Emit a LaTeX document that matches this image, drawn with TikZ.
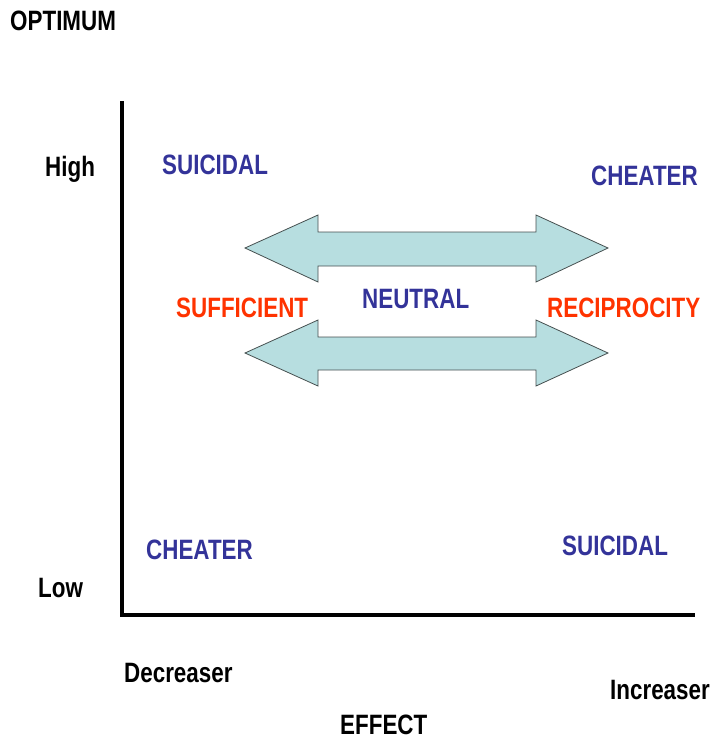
\documentclass[tikz,border=0pt]{standalone}
\usepackage{fontspec}
\setmainfont{Liberation Sans}[FakeStretch=0.80]
\definecolor{lblblue}{RGB}{51,51,153}
\definecolor{lblred}{RGB}{255,51,0}
\definecolor{arrfill}{RGB}{183,222,224}
\definecolor{arrdraw}{RGB}{70,80,80}
\tikzset{
  lbl/.style={inner sep=0pt, anchor=base west, font=\fontsize{28}{33}\selectfont\bfseries},
  blk/.style={lbl, text=black},
  blu/.style={lbl, text=lblblue},
  red/.style={lbl, text=lblred},
  axis/.style={line width=4.5pt, line join=miter},
  fatarrow/.style={fill=arrfill, draw=arrdraw, line width=0.8pt, line join=miter}
}
\begin{document}
\begin{tikzpicture}[x=1pt,y=-1pt]
\useasboundingbox (0,0) rectangle (712,740);
% axes
\draw[axis] (122,101) -- (122,615) -- (695,615);
% double arrows
\draw[fatarrow] (245,248) -- (318,215) -- (318,232) -- (536,232) -- (536,215) -- (608,248)
  -- (536,282) -- (536,266) -- (318,266) -- (318,282) -- cycle;
\draw[fatarrow] (245,353) -- (318,320) -- (318,337) -- (536,337) -- (536,320) -- (608,353)
  -- (536,386) -- (536,370) -- (318,370) -- (318,386) -- cycle;
% labels
\node[blk] (optimum) at (10,30) {OPTIMUM};
\node[blk] (high) at (45,176) {High};
\node[blk] (low) at (38,597) {Low};
\node[blk] (decr) at (124,682) {Decreaser};
\node[blk] (incr) at (610,699) {Increaser};
\node[blk] (effect) at (340,734) {EFFECT};
\node[blu] (suitl) at (162,174) {SUICIDAL};
\node[blu] (cheattr) at (591,185) {CHEATER};
\node[blu] (neutral) at (362,308) {NEUTRAL};
\node[blu] (cheatbl) at (146,559) {CHEATER};
\node[blu] (suibr) at (562,555) {SUICIDAL};
\node[red] (suff) at (176,317) {SUFFICIENT};
\node[red] (recip) at (547,317) {RECIPROCITY};
\end{tikzpicture}
\end{document}
